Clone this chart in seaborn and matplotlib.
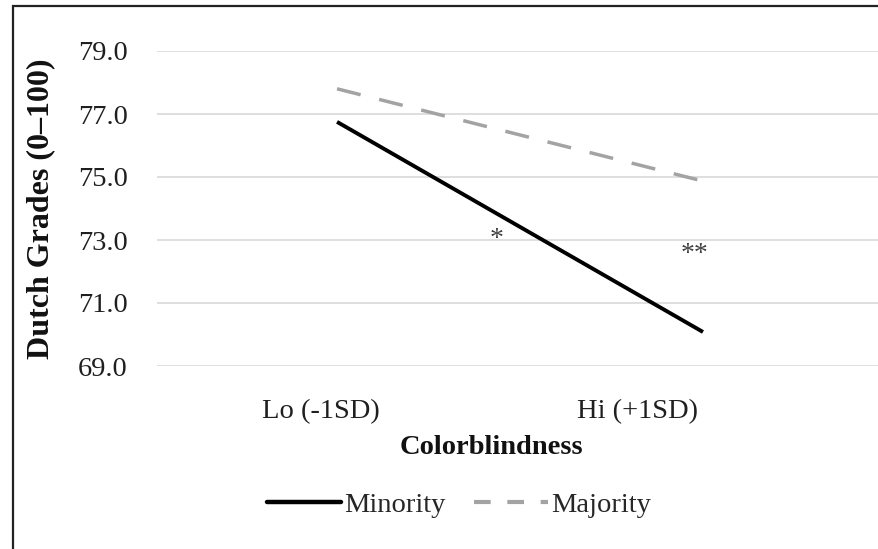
import matplotlib
matplotlib.use("Agg")
import matplotlib.pyplot as plt
import seaborn as sns
import pandas as pd
from matplotlib.patches import Rectangle
from matplotlib.lines import Line2D

# ---- data ----
categories = ["Lo (-1SD)", "Hi (+1SD)"]
minority = [76.75, 70.08]
majority = [77.80, 74.87]
groups = ["Minority", "Majority"]
y_ticks = [69.0, 71.0, 73.0, 75.0, 77.0, 79.0]
sig_labels = ["*", "**"]
sig_y = [73.0, 72.55]

df = pd.DataFrame({
    "x": [0, 1, 0, 1],
    "grade": minority + majority,
    "group": [groups[0]] * 2 + [groups[1]] * 2,
})

sns.set_theme(style="white")
plt.rcParams["font.family"] = ["Liberation Serif", "DejaVu Serif"]

W, H = 879, 549
fig = plt.figure(figsize=(W / 100, H / 100), dpi=100)
fig.patch.set_facecolor("white")
ax = fig.add_axes([157 / W, 1 - 366 / H, (879 - 157) / W, (366 - 51) / H])

palette = {"Minority": "#000000", "Majority": "#a3a3a3"}
dashes = {"Minority": "", "Majority": (7, 5.5)}
sns.lineplot(data=df, x="x", y="grade", hue="group", style="group",
             palette=palette, dashes=dashes, ax=ax, legend=False,
             linewidth=2.8, sort=False)
for ln in ax.lines:
    ln.set_solid_capstyle("butt")
    ln.set_dash_capstyle("butt")
ax.lines[1].set_linewidth(2.5)

ax.set_xlim(-0.492, 1.481)
ax.set_ylim(69, 79)
ax.set_yticks(y_ticks)
ax.set_yticklabels([f"{v:.1f}" for v in y_ticks])
ax.set_xticks([-0.045, 0.82])
ax.set_xticklabels(categories)
ax.tick_params(axis="y", length=0, pad=21, labelsize=20.5, labelcolor="#1f1f1f")
ax.tick_params(axis="x", length=0, pad=24, labelsize=20.5, labelcolor="#1f1f1f")
ax.grid(axis="y", color="#d9d9d9", linewidth=1.2)
ax.set_axisbelow(True)
for s in ax.spines.values():
    s.set_visible(False)

ax.set_ylabel("Dutch Grades (0–100)", fontsize=23, fontweight="bold", color="#111111")
ax.yaxis.set_label_coords((55 - 157) / (879 - 157), 0.5)
ax.set_xlabel("")

fig.text(491 / W, 1 - 448 / H, "Colorblindness", ha="center", va="center",
         fontsize=20.5, fontweight="bold", color="#111111")

# significance markers
ax.text(0.437, sig_y[0], sig_labels[0], ha="center", va="center", fontsize=20, color="#404040")
ax.text(0.978, sig_y[1], sig_labels[1], ha="center", va="center", fontsize=20, color="#404040")

handles = [Line2D([], [], color="#000000", lw=3.2),
           Line2D([], [], color="#a3a3a3", lw=3.0, dashes=(4, 4))]
fig.legend(handles, groups, loc="center", bbox_to_anchor=(459 / W, 1 - 505 / H),
           ncol=2, frameon=False, fontsize=20.5, handlelength=2.6,
           handletextpad=0.1, columnspacing=1.0)

# outer chart border (cropped at right / bottom)
fig.patches.append(Rectangle((13 / W, -0.2), 1.5, 1.2 - 6 / H, transform=fig.transFigure,
                             fill=False, edgecolor="#222222", linewidth=1.6))

fig.savefig("out.png", dpi=100)
